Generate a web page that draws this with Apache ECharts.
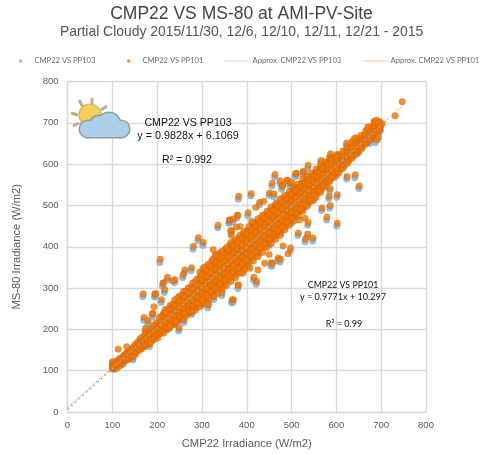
<!DOCTYPE html>
<html><head><meta charset="utf-8">
<style>html,body{margin:0;padding:0;background:#fff}#c{width:484px;height:455px}</style>
<script src="https://cdn.jsdelivr.net/npm/echarts@6/dist/echarts.min.js"></script></head>
<body><div id="c"></div>
<script>
const titleText = 'CMP22 VS MS-80 at AMI-PV-Site';
const subtitleText = 'Partial Cloudy 2015/11/30, 12/6, 12/10, 12/11, 12/21 - 2015';
const xName = 'CMP22 Irradiance (W/m2)';
const yName = 'MS-80 Irradiance (W/m2)';
const seriesNames = ['CMP22 VS PP103','CMP22 VS PP101','Approx. CMP22 VS PP103','Approx. CMP22 VS PP101'];
const trend103 = [[0,6.1],[700,694]];
const trend101 = [[0,10.3],[750,743]];
const pp101Band = [
[101,104],[102,112],[103,118],[104,108],[106,120],[108,112],[110,122],[111,106],[113,116],[115,128],[117,112],[119,124],[121,130],[123,116],[125,136],[127,122],[129,130],[131,142],[133,126],[135,136],[137,148],[139,130],[141,142],[143,152],[145,134],[147,146],[150,158],[152,140],[154,150],[156,166],[158,148],[160,160],[163,172],[165,152],[167,164],[170,178],[172,158],[175,170],[178,186],[180,164],[182,176],[185,192],[187,170],[190,184],[192,200],[195,176],[197,190],[200,208],[202,180],[205,196],
[100,106],[100,112],[100,118],[101,122],[103,110],[105,114],[109,117],[112,124],[116,120],[118,130],[122,124],[124,128],[126,132],[128,138],[130,126],[132,134],[134,144],[136,130],[138,140],[140,150],[142,136],[144,144],[146,156],[148,140],[149,150],[151,164],[153,146],[155,156],[157,170],[159,152],[161,166],[162,178],[164,158],[166,170],[168,182],[169,160],[171,172],[173,188],[174,164],[176,178],[177,194],[179,170],[181,184],[183,198],[184,172],[186,182],[188,204],[189,178],[191,190],[193,210],[194,184],[196,198],[198,216],[199,188],[201,200],
[208,190],[211,206],[213,224],[215,240],[219,198],[221,214],[223,232],[218,248],[228,204],[231,222],[233,240],[229,258],[238,212],[241,230],[243,250],[239,272],[248,222],[251,240],[253,258],[249,280],[258,228],[261,248],[263,268],[259,292],[268,238],[271,256],[273,278],[269,300],[278,244],[281,264],[283,288],[279,312],[288,252],[291,274],[293,298],[289,322],
[298,262],[301,284],[303,306],[299,330],[302,346],[308,272],[311,294],[313,316],[309,338],[312,354],[318,280],[321,302],[323,326],[319,348],[322,366],[328,290],[331,312],[333,336],[329,358],[332,378],[338,298],[341,320],[343,344],[339,366],[342,386],[348,308],[351,330],[353,352],[349,374],[352,394],
[358,318],[361,338],[363,362],[359,384],[362,404],[368,326],[371,350],[373,372],[369,392],[372,412],[378,336],[381,358],[383,382],[379,402],[382,422],[388,346],[391,368],[393,390],[389,412],[392,432],[398,354],[401,378],[403,400],[399,422],[402,440],[408,366],[411,388],[413,410],[409,432],[412,452],
[418,376],[421,398],[423,420],[419,442],[422,460],[428,386],[431,408],[433,430],[429,450],[432,470],[438,398],[441,418],[443,440],[439,460],[442,478],[448,408],[451,428],[453,450],[449,470],[452,490],[458,418],[461,438],[463,460],[459,480],[462,498],[468,428],[471,448],[473,470],[469,490],[472,508],
[478,438],[481,458],[483,480],[479,500],[482,518],[488,450],[491,470],[493,490],[489,510],[492,526],[498,462],[501,480],[503,500],[499,518],[502,536],[508,472],[511,490],[513,510],[509,528],[512,544],[518,484],[521,500],[523,520],[519,538],[522,554],[528,496],[531,512],[533,530],[529,548],[532,562],
[538,506],[541,522],[543,540],[539,556],[542,570],[548,516],[551,532],[553,548],[549,564],[552,580],[558,530],[561,544],[563,558],[559,574],[562,588],[568,540],[571,554],[573,568],[569,582],[572,596],[578,552],[581,564],[583,578],[579,592],[582,606],[588,564],[591,576],[593,590],[589,602],[592,616],[598,576],[601,586],[603,600],[599,612],[602,624],
[608,586],[611,596],[613,608],[609,620],[618,596],[621,606],[623,618],[619,630],[628,608],[631,618],[633,628],[629,640],[638,620],[641,628],[643,638],[639,650],[648,630],[651,638],[653,648],[649,658],[658,640],[661,648],[663,658],[659,666],[668,652],[671,660],[673,668],[669,676],[678,662],[681,670],[683,678],[679,686],[688,674],[691,682],[693,690],[689,696],[697,684],[699,692],[702,698],[697,702],[684,704],[690,706]
];
const pp101Columns = [
[205,[193,204,216,229]],[215,[196,209,227,236]],[225,[207,218,226,243,250]],[235,[214,225,238,255,262]],[245,[219,233,246,262,275]],[255,[226,237,253,270,283]],[265,[233,246,263,279,292]],[275,[241,256,271,288,303]],[285,[246,262,280,297,315]],[295,[255,268,291,309,325,338]],
[305,[263,279,298,316,333,350]],[315,[272,288,310,325,344,358]],[325,[281,296,318,336,352,371]],[335,[287,306,327,349,362,382]],[345,[298,316,338,357,372,389]],[355,[307,323,345,366,384,398]],[365,[316,334,357,378,396,410]],[375,[325,345,363,386,404,416]],[385,[336,352,374,397,414,428]],[395,[345,363,385,406,424,437]],
[405,[354,373,394,418,436,449]],[415,[366,384,405,428,445,458]],[425,[376,392,415,436,454,468]],[435,[386,403,424,447,465,476]],[445,[398,414,434,458,474,486]],[455,[408,423,445,466,484,497]],[465,[418,434,456,476,494,505]],[475,[428,444,465,486,504,516]],[485,[441,456,476,496,514,524]],[495,[452,466,486,506,524,534]],
[505,[462,478,496,516,532,546]],[515,[474,488,506,524,540,552]],[525,[486,500,518,536,552,564]],[535,[498,512,528,544,558,572]],[545,[510,522,538,552,566,578]],[555,[520,534,548,562,576,588]],[565,[532,546,558,572,586,598]],[575,[546,556,568,582,594,606]],[585,[558,568,580,592,604,616]],[595,[568,578,590,602,614]],
[605,[578,590,600,612,622]],[615,[590,600,610,622,632]],[625,[602,612,620,632,642]],[635,[614,622,632,642,654]],[645,[624,634,642,652,664]],[655,[636,644,652,662,670]],[665,[648,654,662,672,680]],[675,[658,664,672,682,690]],[685,[668,676,684,692,700]],[695,[680,686,694,702]]
];
const pp101Core = [
[210,[198,210,221,232]],[220,[205,216,228,241]],[230,[213,226,236,247]],[240,[222,234,246,258]],[250,[232,244,256,268]],[260,[238,252,264,278]],[270,[246,260,274,288]],[280,[256,270,284,298]],[290,[262,278,294,308]],[300,[272,288,304,320,332]],
[310,[282,300,314,328,342]],[320,[292,308,322,338,352]],[330,[300,316,332,346,362]],[340,[310,326,342,358,374]],[350,[320,336,350,368,380]],[360,[328,346,360,376,392]],[370,[340,354,370,386,402]],[380,[348,364,380,396,410]],[390,[358,376,392,404,420]],[400,[368,384,398,416,430]],
[410,[378,394,410,426,440]],[420,[388,404,418,434,450]],[430,[398,414,428,444,458]],[440,[408,424,438,454,470]],[450,[420,434,448,462,478]],[460,[428,444,458,472,488]],[470,[438,454,468,482,498]],[480,[448,464,476,492,508]],[490,[460,474,488,502,516]],[500,[470,484,498,512,526]],
[510,[482,494,508,520,536]],[520,[492,506,516,530,546]],[530,[504,516,526,540,554]],[540,[514,526,536,550,562]],[550,[526,538,546,558,570]],[560,[536,548,556,568,580]],[570,[548,558,566,578,590]],[580,[560,570,578,588,600]],[590,[570,582,588,598,610]],[600,[582,592,598,608,618]]
];
const pp101Outliers = [
[747,751],[731,717],[689,659],[694,666],[651,547],[642,574],[624,570],[602,526],[602,457],[579,472],[586,500],[584,522],[586,541],[463,575],[457,554],[537,597],[566,609],[511,578],[527,581],[515,433],[536,431],[568,494],[670,690],[640,662],[623,651],[587,625],[410,529],[451,530],[475,560],[491,561],[498,554],[479,546],
[207,370],[292,422],[281,401],[303,410],[336,452],[362,465],[379,476],[366,439],[403,482],[370,272],[195,286],[193,255],[262,344],[277,349],[240,320],[213,312],[314,259],[381,306],[422,316],[455,361],[470,373],
[169,286],[197,286],[214,312],[113,152],[132,158],[171,229],[190,237],[249,203],[260,223],[278,243],[314,262],[367,272],[381,308],[345,289],[327,279],[184,165],[147,133],
[382,522],[361,464],[370,467],[380,476],[420,495],[429,508],[438,510],[461,528],[480,548],[490,561],[500,556],[509,577],[526,582],[411,461],[385,449],[377,448],[364,439],[366,427],
[537,459],[518,465],[530,469],[531,419],[548,421],[498,397],[492,383],[481,402],[475,370],[457,360],[440,360],[450,381],[425,344],[416,326],[407,348],[392,336],[325,393],[330,380],
[223,326],[258,332],[235,318],[217,296],[210,272],[190,239],[180,221],[174,203],[229,207],[214,191],[242,219]
];
const pp103 = [
[105,103],[120,116],[140,134],[160,152],[180,170],[200,186],[225,200],[250,226],[275,240],[300,258],[325,284],[350,304],[375,332],[400,352],[425,382],[450,404],[475,434],[500,458],[525,490],[550,512],[575,548],[600,572],[625,604],[650,628],[675,650],[690,668],[698,680],
[687,652],[692,659],[650,541],[641,567],[623,564],[601,520],[601,450],[578,465],[585,494],[583,516],[585,535],[462,568],[456,547],[536,590],[565,603],[510,571],[526,574],[514,427],[535,424],[567,488],[669,683],[639,656],[622,645],[586,619],[409,523],[450,524],[474,553],[490,554],[497,547],[478,539],
[206,362],[291,415],[280,394],[302,403],[335,446],[361,458],[378,469],[365,432],[402,475],[369,265],[194,279],[261,337],[276,342],[239,313],[212,305],[313,252],[380,299],[421,309],[454,354],[469,366],
[168,279],[196,279],[170,222],[189,230],[248,196],[259,216],[277,236],[366,264],[344,282],[326,272],[183,158],[146,126],[695,680],
[381,515],[360,457],[369,460],[428,501],[460,521],[508,570],[536,452],[530,412],[547,414],[497,390],[474,363],[456,353],[415,319],[222,319],[257,325],[216,289],[209,265],[179,214],[173,196],[241,212]
];
const pp101 = pp101Band.concat(pp101Columns.flatMap(c => c[1].map(y => [c[0], y])), pp101Core.flatMap(c => c[1].map(y => [c[0], y])), pp101Outliers);
const chart = echarts.init(document.getElementById('c'));
const legendText = {color:'#6b6b6b',fontSize:7.6,fontFamily:'Lato, sans-serif'};
const rays=[[79,100,83,107],[92,98,92,105],[107,106,101,110],[71,113,78,115],[73,126,79,123]];
const cloudParts=[[88,129,8],[99,125,9],[109,124,11],[121,129,8]];
chart.setOption({
  animation:false,
  backgroundColor:'#fff',
  title:[
    {text:titleText,left:236.5,top:0,textAlign:'center',textStyle:{fontSize:17.5,fontWeight:'normal',color:'#444',fontFamily:'Liberation Sans, sans-serif'}},
    {text:subtitleText,left:236.5,top:20,textAlign:'center',textStyle:{fontSize:13.9,fontWeight:'normal',color:'#555',fontFamily:'Liberation Sans, sans-serif'}}
  ],
  legend:[
    {left:14,top:52,data:[{name:seriesNames[0],icon:'circle',itemStyle:{borderWidth:0}}],itemWidth:3.5,itemHeight:3.5,textStyle:{...legendText,padding:[0,0,0,7]}},
    {left:122,top:52,data:[{name:seriesNames[1],icon:'circle',itemStyle:{borderWidth:0}}],itemWidth:3.5,itemHeight:3.5,textStyle:{...legendText,padding:[0,0,0,7]}},
    {left:220,top:52,data:[seriesNames[2]],itemWidth:25,itemHeight:6,itemStyle:{opacity:0},lineStyle:{type:[2,1],width:1,color:'#a9c9e6'},textStyle:{...legendText,padding:[0,0,0,-3]}},
    {left:358,top:52,data:[seriesNames[3]],itemWidth:25,itemHeight:6,itemStyle:{opacity:0},lineStyle:{type:[2,1],width:1,color:'#f4a86a'},textStyle:{...legendText,padding:[0,0,0,-3]}}
  ],
  grid:{left:67.5,right:58,top:81.5,bottom:43,containLabel:false},
  xAxis:{type:'value',min:0,max:800,interval:100,name:xName,nameLocation:'middle',nameGap:26,
    nameTextStyle:{fontSize:11.2,color:'#595959',fontFamily:'Liberation Sans, sans-serif'},
    axisLine:{show:true,lineStyle:{color:'#d9d9d9',width:1.3}},axisTick:{show:false},
    axisLabel:{fontSize:9.5,color:'#595959',margin:8,fontFamily:'Liberation Sans, sans-serif'},
    splitLine:{show:true,lineStyle:{color:'#d9d9d9',width:1.3}}},
  yAxis:{type:'value',min:0,max:800,interval:100,name:yName,nameLocation:'middle',nameGap:45,
    nameTextStyle:{fontSize:11.2,color:'#595959',fontFamily:'Liberation Sans, sans-serif'},
    axisLine:{show:true,lineStyle:{color:'#d9d9d9',width:1.3}},axisTick:{show:false},
    axisLabel:{fontSize:9.5,color:'#595959',margin:9,fontFamily:'Liberation Sans, sans-serif'},
    splitLine:{show:true,lineStyle:{color:'#d9d9d9',width:1.3}}},
  series:[
    {name:seriesNames[0],type:'scatter',data:pp103,symbolSize:6.5,itemStyle:{color:'#79aedb',borderColor:'#8aa3b8',borderWidth:.5}},
    {name:seriesNames[1],type:'scatter',data:pp101,symbolSize:6.5,itemStyle:{color:'#f47500',borderColor:'rgba(140,80,30,.55)',borderWidth:.5}},
    {name:seriesNames[3],type:'line',data:trend101,symbol:'none',lineStyle:{color:'#f28a30',width:1,type:[2,1.5]},itemStyle:{color:'#f28a30'}},
    {name:seriesNames[2],type:'line',data:trend103,symbol:'none',lineStyle:{color:'#7db4e0',width:1.1,type:[2,3]},itemStyle:{color:'#7db4e0'}}
  ],
  graphic:[
    ...rays.map(r=>({type:'line',shape:{x1:r[0],y1:r[1],x2:r[2],y2:r[3]},z:10,style:{stroke:'#c3ad84',lineWidth:3}})),
    {type:'circle',shape:{cx:90,cy:115,r:11},z:11,style:{fill:'#f6cf57',stroke:'#d4b26b',lineWidth:1.2}},
    ...cloudParts.map(p=>({type:'circle',z:12,shape:{cx:p[0],cy:p[1],r:p[2]+1.5},style:{fill:'#8f9aa3'}})),
    {type:'rect',z:12,shape:{x:86,y:125,width:36,height:13.5},style:{fill:'#8f9aa3'}},
    ...cloudParts.map(p=>({type:'circle',z:13,shape:{cx:p[0],cy:p[1],r:p[2]},style:{fill:'#add0ea'}})),
    {type:'rect',z:13,shape:{x:87,y:124,width:35,height:13},style:{fill:'#add0ea'}},
    {type:'text',z:20,style:{text:'CMP22 VS PP103',x:188,y:123,align:'center',verticalAlign:'middle',fontSize:10.6,fill:'#111',fontFamily:'Liberation Sans, sans-serif'}},
    {type:'text',z:20,style:{text:'y = 0.9828x + 6.1069',x:188,y:136,align:'center',verticalAlign:'middle',fontSize:10.8,fill:'#111',fontFamily:'Liberation Sans, sans-serif'}},
    {type:'text',z:20,style:{text:'R² = 0.992',x:187,y:160,align:'center',verticalAlign:'middle',fontSize:10.6,fill:'#111',fontFamily:'Liberation Sans, sans-serif'}},
    {type:'text',z:20,style:{text:'CMP22 VS PP101',x:343,y:285,align:'center',verticalAlign:'middle',fontSize:8.8,fill:'#111',fontFamily:'Lato, sans-serif'}},
    {type:'text',z:20,style:{text:'y = 0.9771x + 10.297',x:343,y:297,align:'center',verticalAlign:'middle',fontSize:9.1,fill:'#111',fontFamily:'Lato, sans-serif'}},
    {type:'text',z:20,style:{text:'R² = 0.99',x:344,y:324,align:'center',verticalAlign:'middle',fontSize:9.1,fill:'#111',fontFamily:'Lato, sans-serif'}}
  ]
});
</script></body></html>
